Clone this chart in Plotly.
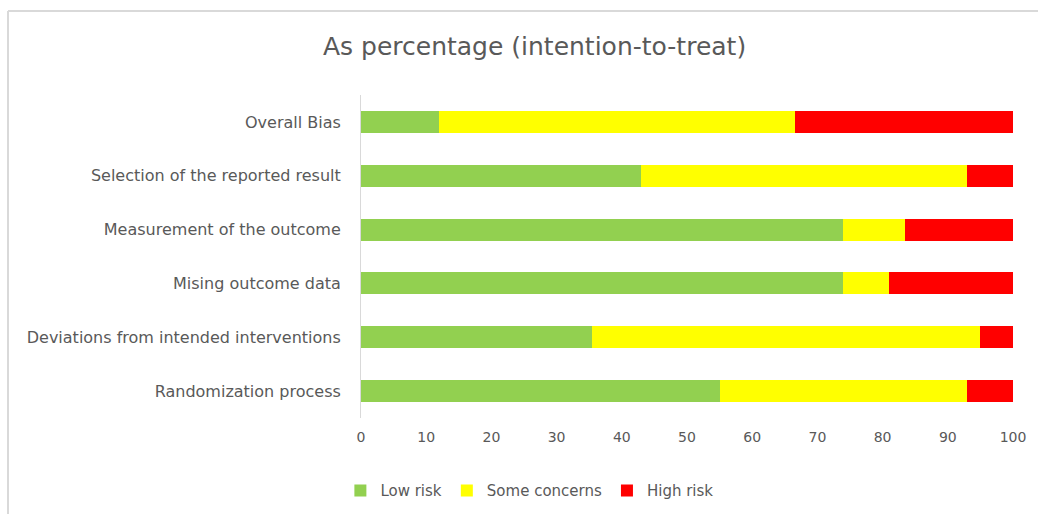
import plotly.graph_objects as go

categories = ["Overall Bias", "Selection of the reported result", "Measurement of the outcome",
              "Mising outcome data", "Deviations from intended interventions", "Randomization process"]
low_risk = [12, 43, 74, 74, 35.5, 55]
some_concerns = [54.5, 50, 9.5, 7, 59.5, 38]
high_risk = [33.5, 7, 16.5, 19, 5, 7]

series = [("Low risk", low_risk, "#92D050"),
          ("Some concerns", some_concerns, "#FFFF00"),
          ("High risk", high_risk, "#FF0000")]

font_family = "DejaVu Sans"
gray = "#595959"

fig = go.Figure()
for name, vals, color in series:
    fig.add_trace(go.Bar(y=categories, x=vals, name=name, orientation="h",
                         marker=dict(color=color, line=dict(width=0))))

fig.update_layout(
    barmode="stack",
    bargap=0.59,
    width=1038, height=514,
    margin=dict(l=361, r=25, t=95, b=96),
    paper_bgcolor="white", plot_bgcolor="white",
    font=dict(family=font_family, color=gray, size=14),
    title=dict(text="As percentage (intention-to-treat)", x=0.515, xanchor="center",
               xref="container", y=0.91, yanchor="middle", yref="container",
               font=dict(size=25, color=gray, family=font_family)),
    legend=dict(orientation="h", x=0.51, xanchor="center", xref="container",
                y=0.045, yanchor="middle", yref="container",
                font=dict(size=15, color=gray), traceorder="normal",
                itemwidth=30),
    showlegend=True,
)
fig.update_xaxes(range=[0, 100], tickvals=list(range(0, 101, 10)), showgrid=False,
                 zeroline=False, showline=False, ticks="", ticklabelstandoff=9,
                 tickfont=dict(size=14, color=gray))
fig.update_yaxes(autorange="reversed", showgrid=False, showline=True, linecolor="#d9d9d9",
                 linewidth=1, ticks="", ticklabelstandoff=16,
                 tickfont=dict(size=16, color=gray))

# light chart-area border (top and left edges)
fig.add_shape(type="line", xref="paper", yref="paper", x0=-0.5414, x1=1.05, y0=1.26, y1=1.26,
              line=dict(color="#d9d9d9", width=2))
fig.add_shape(type="line", xref="paper", yref="paper", x0=-0.5414, x1=-0.5414, y0=1.26, y1=-0.35,
              line=dict(color="#d9d9d9", width=2))

fig.write_html("out.html")
